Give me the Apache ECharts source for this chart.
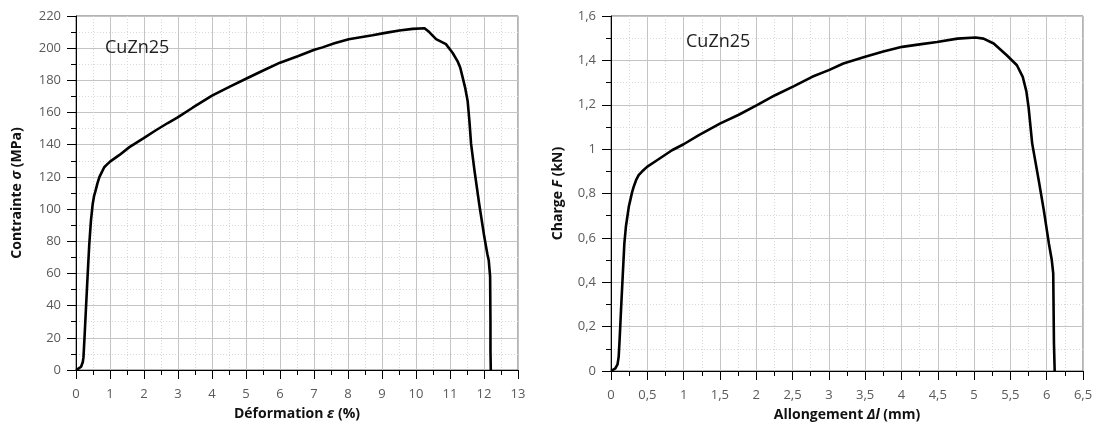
<!DOCTYPE html>
<html>
<head>
<meta charset="utf-8">
<script src="https://cdn.jsdelivr.net/npm/echarts@6/dist/echarts.min.js"></script>
<style>
html,body{margin:0;padding:0;background:#fff;}
#chart{width:1096px;height:428px;}
</style>
</head>
<body>
<div id="chart"></div>
<script>
// ---- Data ----
const sampleLabel = "CuZn25";

// Left: strain (%) vs stress (MPa)
const strainPct = [0,0.08,0.15,0.2,0.22,0.25,0.29,0.34,0.39,0.44,0.49,0.53,0.57,0.63,0.69,0.76,0.83,0.9,1.0,1.27,1.57,1.98,2.35,2.7,2.99,3.43,4.0,4.51,5.0,5.49,6.0,6.52,7.01,7.25,7.6,8.02,8.72,9.1,9.51,9.9,10.25,10.39,10.59,10.88,11.08,11.22,11.3,11.37,11.45,11.52,11.57,11.62,11.72,11.86,12.01,12.1,12.14,12.18,12.19,12.19,12.2];
const stressMPa = [0,1,2,5,8,20,37,58,78,93,103,108,111,116,120,123,126,127.5,129.5,133.5,138.5,144,149,153.5,157,163,170.5,176,181,186,191,195,199,200.5,203,205.6,208,209.5,211,212,212.4,210,205.6,202.5,197,192,188,182,175,167,155,140.5,124,103,82.6,72,68,58,30,12,0];

// Right: elongation (mm) vs force (kN)
const elongMm = [0,0.06,0.09,0.106,0.12,0.138,0.16,0.184,0.205,0.225,0.245,0.266,0.29,0.312,0.345,0.381,0.43,0.496,0.634,0.84,1.0,1.21,1.506,1.76,2.01,2.26,2.52,2.77,3.0,3.2,3.5,3.75,4.01,4.25,4.49,4.77,5.02,5.13,5.27,5.45,5.59,5.67,5.72,5.75,5.8,5.89,5.96,6.03,6.07,6.09,6.1,6.11];
const forceKN = [0,0.012,0.03,0.065,0.15,0.275,0.42,0.575,0.65,0.695,0.74,0.77,0.805,0.83,0.86,0.883,0.9,0.92,0.95,0.995,1.022,1.063,1.116,1.155,1.198,1.243,1.284,1.326,1.356,1.386,1.416,1.44,1.461,1.472,1.483,1.498,1.503,1.498,1.476,1.423,1.378,1.326,1.26,1.19,1.026,0.86,0.725,0.575,0.5,0.44,0.125,0];

// Axis ranges / ticks
const leftX = {min:0, max:13, interval:1};
const leftY = {min:0, max:220, interval:20};
const rightX = {min:0, max:6.5, interval:0.5};
const rightY = {min:0, max:1.6, interval:0.2};

// ---- Chart ----
const FONT = "'Open Sans', 'Noto Sans', sans-serif";
const comma = v => String(+Number(v).toFixed(2)).replace('.', ',');

function axisCommon(r, fmt){
  return {
    type:'value', min:r.min, max:r.max, interval:r.interval,
    axisLine:{show:true, onZero:false, lineStyle:{color:'#000', width:1}},
    axisTick:{show:true, inside:false, length:9, lineStyle:{color:'#000'}},
    minorTick:{show:true, splitNumber:2, length:5, lineStyle:{color:'#000'}},
    splitLine:{show:true, lineStyle:{color:'#c4c4c4', width:1}},
    minorSplitLine:{show:true, lineStyle:{color:'#d8d8d8', width:1, type:[1,2]}},
    axisLabel:{color:'#5a5a5a', fontSize:13, fontFamily:FONT, formatter:fmt},
    nameTextStyle:{color:'#111', fontSize:14, fontWeight:'bold', fontFamily:FONT,
      rich:{i:{fontStyle:'italic', fontWeight:'bold', fontSize:14, fontFamily:FONT, color:'#111'}}}
  };
}

const chart = echarts.init(document.getElementById('chart'), null, {renderer:'canvas'});

const xL = Object.assign(axisCommon(leftX, v=>String(v)), {gridIndex:0, name:'Déformation {i|ε} (%)', nameLocation:'middle', nameGap:37});
xL.axisLabel.margin = 18;
const yL = Object.assign(axisCommon(leftY, v=>String(v)), {gridIndex:0, name:'Contrainte {i|σ} (MPa)', nameLocation:'middle', nameGap:52});
yL.axisLabel.margin = 15;
const xR = Object.assign(axisCommon(rightX, comma), {gridIndex:1, name:'Allongement {i|Δl} (mm)', nameLocation:'middle', nameGap:37});
xR.axisLabel.margin = 18;
const yR = Object.assign(axisCommon(rightY, comma), {gridIndex:1, name:'Charge {i|F} (kN)', nameLocation:'middle', nameGap:46});
yR.axisLabel.margin = 15;

chart.setOption({
  animation:false,
  backgroundColor:'#fff',
  title:[
    {text:sampleLabel, left:105, top:39, padding:0, textStyle:{fontSize:18, fontWeight:'normal', color:'#222', fontFamily:FONT}},
    {text:sampleLabel, left:686, top:33, padding:0, textStyle:{fontSize:18, fontWeight:'normal', color:'#222', fontFamily:FONT}}
  ],
  grid:[
    {left:76, top:16, width:442, height:354, show:true, borderColor:'#666', borderWidth:1, backgroundColor:'transparent', containLabel:false},
    {left:611, top:16, width:472, height:355, show:true, borderColor:'#666', borderWidth:1, backgroundColor:'transparent', containLabel:false}
  ],
  xAxis:[xL, xR],
  yAxis:[yL, yR],
  series:[
    {type:'line', xAxisIndex:0, yAxisIndex:0, showSymbol:false, symbol:'none',
     data:strainPct.map((x,i)=>[x, stressMPa[i]]), lineStyle:{color:'#000', width:2.6}, z:5},
    {type:'line', xAxisIndex:1, yAxisIndex:1, showSymbol:false, symbol:'none',
     data:elongMm.map((x,i)=>[x, forceKN[i]]), lineStyle:{color:'#000', width:2.6}, z:5}
  ]
});
</script>
</body>
</html>
